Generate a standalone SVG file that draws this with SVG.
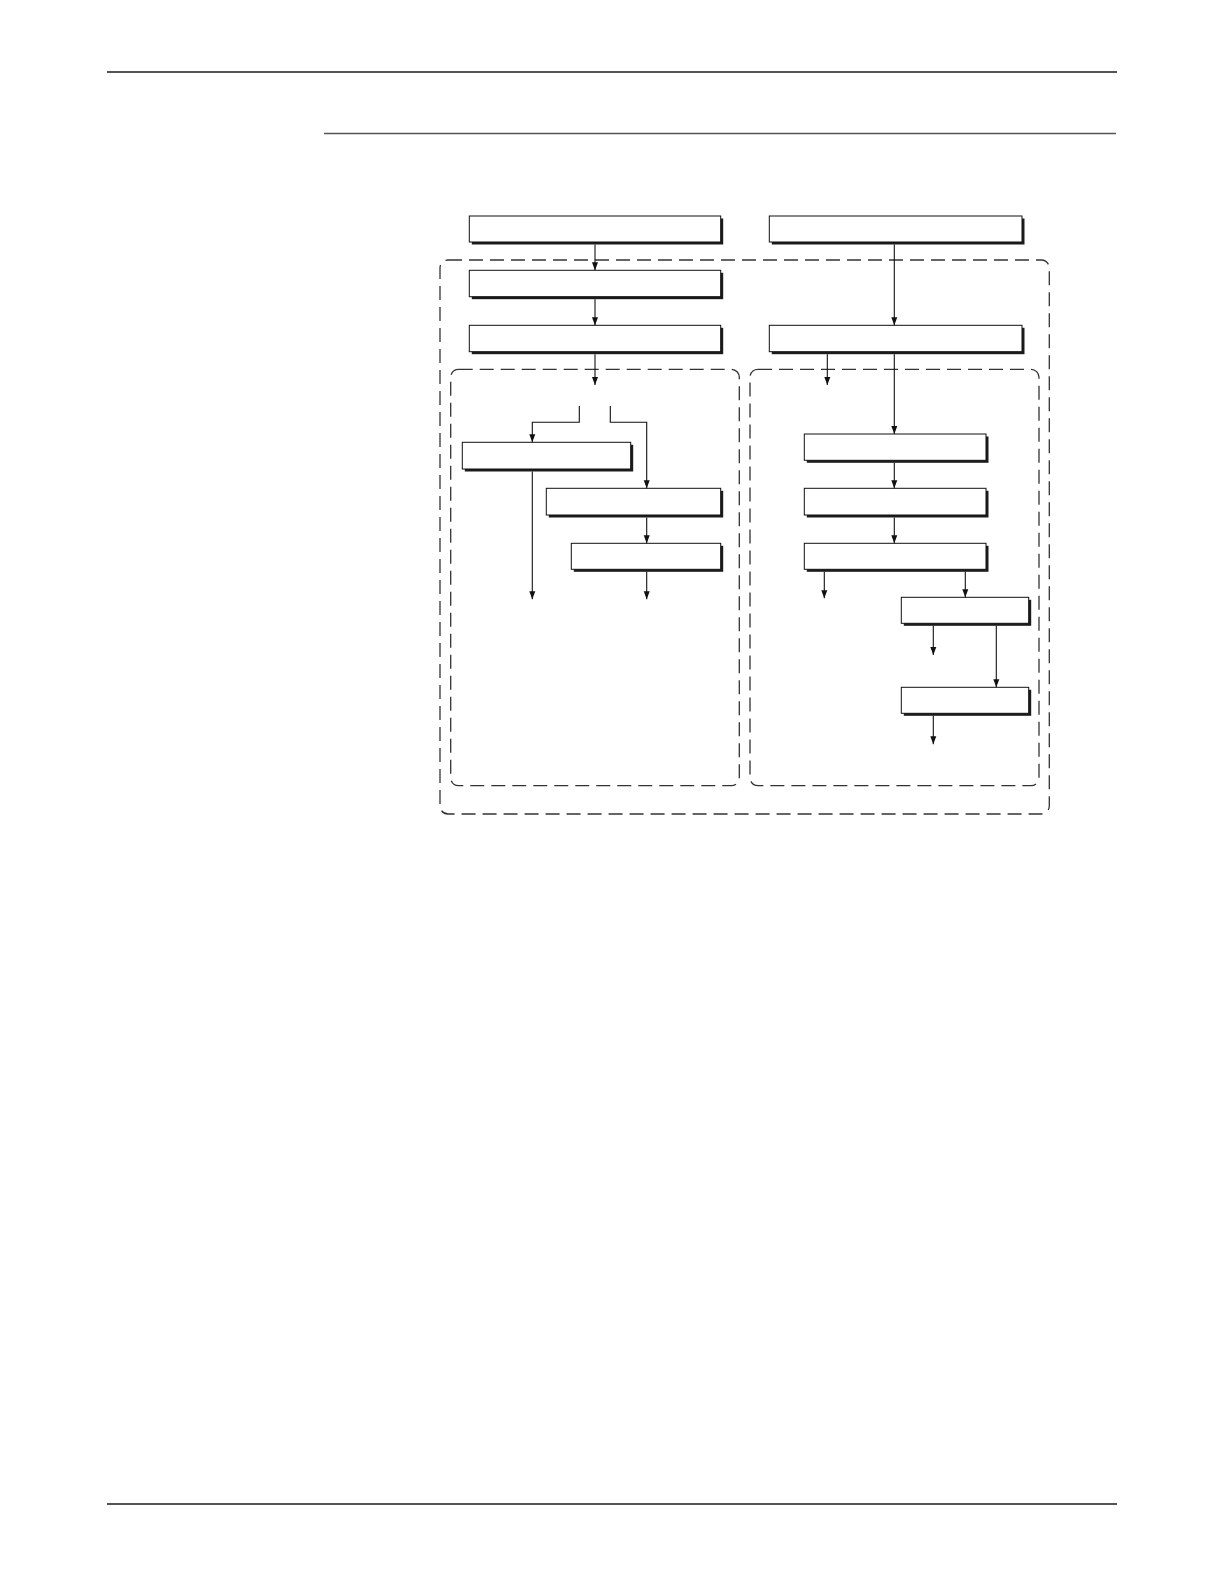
<svg xmlns="http://www.w3.org/2000/svg" width="1224" height="1584" viewBox="0 0 1224 1584">
<style>
.rule{stroke:#555;fill:none}
.grp{fill:none;stroke:#333;stroke-width:1.3;stroke-dasharray:14 7}
.sh{fill:#1c1c1c}
.bx{fill:#fff;stroke:#111;stroke-width:1}
.cn{fill:none;stroke:#111;stroke-width:1.1}
</style>
<defs>
<marker id="arr" markerUnits="userSpaceOnUse" markerWidth="8" markerHeight="7" viewBox="0 0 8 7" refX="8" refY="3.5" orient="auto">
<path d="M0,0.5 L8,3.5 L0,6.5 z" fill="#111"/>
</marker>
</defs>
<rect width="1224" height="1584" fill="#fff"/>
<g id="page-rules">
<line class="rule" x1="107" y1="72" x2="1117" y2="72" stroke-width="2.2"/>
<line class="rule" x1="324" y1="133.5" x2="1116" y2="133.5" stroke-width="1.4" stroke="#444"/>
<line class="rule" x1="107" y1="1504" x2="1117" y2="1504" stroke-width="2.2"/>
</g>
<g id="groups">
<rect id="outer-group" class="grp" x="440" y="260" width="609.3" height="554" rx="8"/>
<rect id="inner-left-group" class="grp" x="450.7" y="369.3" width="288.6" height="416.4" rx="8"/>
<rect id="inner-right-group" class="grp" x="750" y="369.3" width="289" height="416.4" rx="8"/>
</g>
<g id="L1"><rect class="sh" x="471.8" y="218.5" width="251.4" height="26"/><rect class="bx" x="469.3" y="216" width="251.4" height="26"/></g>
<g id="L2"><rect class="sh" x="471.8" y="272.8" width="251.4" height="26.4"/><rect class="bx" x="469.3" y="270.3" width="251.4" height="26.4"/></g>
<g id="L3"><rect class="sh" x="471.8" y="327.8" width="251.4" height="26.4"/><rect class="bx" x="469.3" y="325.3" width="251.4" height="26.4"/></g>
<g id="R1"><rect class="sh" x="771.8" y="218.5" width="252.7" height="26"/><rect class="bx" x="769.3" y="216" width="252.7" height="26"/></g>
<g id="R2"><rect class="sh" x="771.8" y="327.8" width="252.7" height="26.4"/><rect class="bx" x="769.3" y="325.3" width="252.7" height="26.4"/></g>
<g id="L4"><rect class="sh" x="464.8" y="444.8" width="168.4" height="26.7"/><rect class="bx" x="462.3" y="442.3" width="168.4" height="26.7"/></g>
<g id="L5"><rect class="sh" x="548.8" y="490.8" width="174.4" height="26.7"/><rect class="bx" x="546.3" y="488.3" width="174.4" height="26.7"/></g>
<g id="L6"><rect class="sh" x="573.8" y="545.8" width="149.4" height="26"/><rect class="bx" x="571.3" y="543.3" width="149.4" height="26"/></g>
<g id="R3"><rect class="sh" x="806.8" y="436.5" width="181.7" height="26.3"/><rect class="bx" x="804.3" y="434" width="181.7" height="26.3"/></g>
<g id="R4"><rect class="sh" x="806.8" y="490.8" width="181.7" height="26.7"/><rect class="bx" x="804.3" y="488.3" width="181.7" height="26.7"/></g>
<g id="R5"><rect class="sh" x="806.8" y="545.8" width="181.7" height="26"/><rect class="bx" x="804.3" y="543.3" width="181.7" height="26"/></g>
<g id="R6"><rect class="sh" x="903.8" y="599.8" width="127.4" height="26"/><rect class="bx" x="901.3" y="597.3" width="127.4" height="26"/></g>
<g id="R7"><rect class="sh" x="903.8" y="689.8" width="127.4" height="26"/><rect class="bx" x="901.3" y="687.3" width="127.4" height="26"/></g>
<g id="connectors">
<path class="cn" d="M595,244.5 V270.3" marker-end="url(#arr)"/>
<path class="cn" d="M595,299.2 V325.3" marker-end="url(#arr)"/>
<path class="cn" d="M595,354.2 V385" marker-end="url(#arr)"/>
<path class="cn" d="M894.3,244.5 V325.3" marker-end="url(#arr)"/>
<path class="cn" d="M827.3,354.2 V385" marker-end="url(#arr)"/>
<path class="cn" d="M894.3,354.2 V434" marker-end="url(#arr)"/>
<path class="cn" d="M579.3,406 V422.3 H532.3 V442.3" marker-end="url(#arr)"/>
<path class="cn" d="M610.3,406 V422.3 H646.7 V488.3" marker-end="url(#arr)"/>
<path class="cn" d="M532.3,471.5 V599.3" marker-end="url(#arr)"/>
<path class="cn" d="M646.7,517.5 V543.3" marker-end="url(#arr)"/>
<path class="cn" d="M646.7,571.8 V599.3" marker-end="url(#arr)"/>
<path class="cn" d="M894.3,462.8 V488.3" marker-end="url(#arr)"/>
<path class="cn" d="M894.3,517.5 V543.3" marker-end="url(#arr)"/>
<path class="cn" d="M824.3,571.8 V598.3" marker-end="url(#arr)"/>
<path class="cn" d="M965.3,571.8 V597.3" marker-end="url(#arr)"/>
<path class="cn" d="M933.3,625.8 V655" marker-end="url(#arr)"/>
<path class="cn" d="M996.3,625.8 V687.3" marker-end="url(#arr)"/>
<path class="cn" d="M933.3,715.8 V744.3" marker-end="url(#arr)"/>
</g>
</svg>
